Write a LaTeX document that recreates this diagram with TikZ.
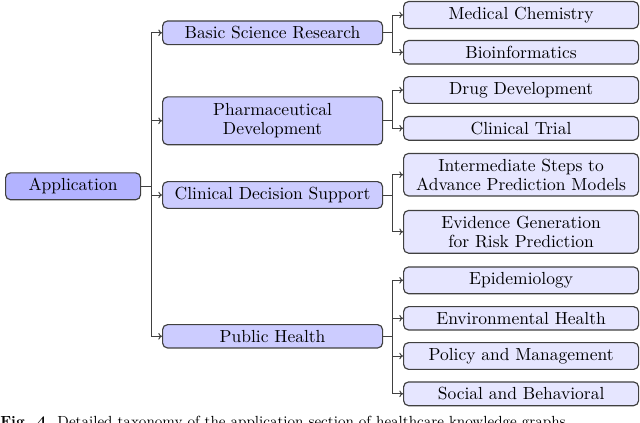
\documentclass[tikz,border=0pt]{standalone}
\usetikzlibrary{arrows.meta,calc}
\definecolor{rootfill}{HTML}{B3B3FF}
\definecolor{midfill}{HTML}{CCCCFF}
\definecolor{leaffill}{HTML}{E6E6FF}
\definecolor{edgecol}{HTML}{404040}
\begin{document}
\begin{tikzpicture}[x=0.6pt,y=-0.6pt,
  box/.style={draw=edgecol,line width=0.7pt,rounded corners=3pt,inner xsep=3.5pt,inner ysep=3.3pt,align=center,anchor=west,font=\fontsize{10.5}{11.4}\selectfont},
  rootbox/.style={box,fill=rootfill,text width=74pt},
  midbox/.style={box,fill=midfill,text width=125pt},
  leafbox/.style={box,fill=leaffill,text width=134pt},
  conn/.style={draw=edgecol,line width=0.6pt,-{To[length=2.2pt,width=4pt]}}]
\useasboundingbox (0,0) rectangle (640,422);
\node[rootbox] (app) at (5,186.3) {Application};
\node[midbox] (bsr) at (162,32.8) {Basic Science Research};
\node[midbox,inner ysep=4pt] (pd) at (162,120.8) {Pharmaceutical\\Development};
\node[midbox] (cds) at (162,195) {Clinical Decision Support};
\node[midbox] (ph) at (162,336.3) {Public Health};
\node[leafbox] (mc) at (403,15) {Medical Chemistry};
\node[leafbox] (bi) at (403,52.3) {Bioinformatics};
\node[leafbox] (dd) at (403,90) {Drug Development};
\node[leafbox] (ct) at (403,128.3) {Clinical Trial};
\node[leafbox] (is) at (403,174.7) {Intermediate Steps to\\Advance Prediction Models};
\node[leafbox] (eg) at (403,231.8) {Evidence Generation\\for Risk Prediction};
\node[leafbox] (ep) at (403,280.3) {Epidemiology};
\node[leafbox] (eh) at (403,318.3) {Environmental Health};
\node[leafbox] (pm) at (403,356) {Policy and Management};
\node[leafbox] (sb) at (403,393.8) {Social and Behavioral};
\coordinate (t0) at ($(app.east)+(10,0)$);
\foreach \c in {bsr,pd,cds,ph} \draw[conn] (app.east) -- (t0) |- (\c.west);
\coordinate (t1) at ($(bsr.east)+(9,0)$);
\foreach \c in {mc,bi} \draw[conn] (bsr.east) -- (t1) |- (\c.west);
\coordinate (t2) at ($(pd.east)+(9,0)$);
\foreach \c in {dd,ct} \draw[conn] (pd.east) -- (t2) |- (\c.west);
\coordinate (t3) at ($(cds.east)+(9,0)$);
\foreach \c in {is,eg} \draw[conn] (cds.east) -- (t3) |- (\c.west);
\coordinate (t4) at ($(ph.east)+(9,0)$);
\foreach \c in {ep,eh,pm,sb} \draw[conn] (ph.east) -- (t4) |- (\c.west);
\node[anchor=north west,inner sep=0pt,font=\fontsize{8.8}{10.5}\selectfont] (cap) at (0,415.5) {\textbf{Fig. 4.} Detailed taxonomy of the application section of healthcare knowledge graphs.};
\end{tikzpicture}
\end{document}
